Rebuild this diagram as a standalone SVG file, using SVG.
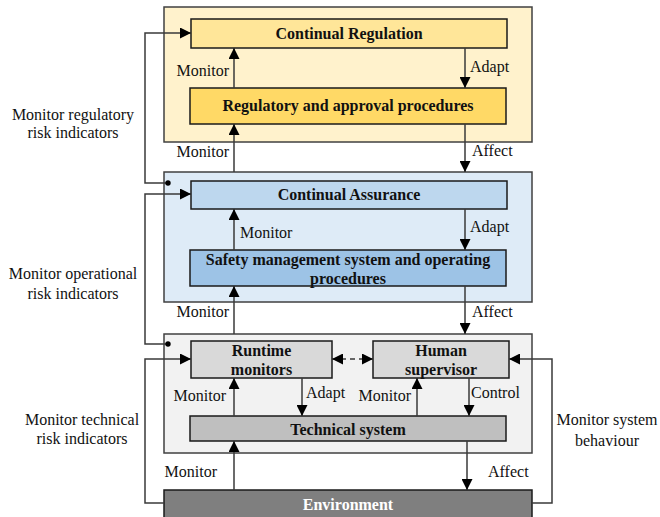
<svg xmlns="http://www.w3.org/2000/svg" width="660" height="517" viewBox="0 0 660 517">
<defs>
<marker id="ah" viewBox="0 0 10 10" refX="10" refY="5" markerWidth="11" markerHeight="11" markerUnits="userSpaceOnUse" orient="auto-start-reverse">
<path d="M0,0 L10,5 L0,10 Z" fill="#000"/>
</marker>
</defs>
<style>
.cont{stroke:#404040;stroke-width:1.5}
.box{stroke:#1a1a1a;stroke-width:1.5}
text{font-family:'Liberation Serif','Times New Roman',Times,'DejaVu Serif',serif;font-size:16px;fill:#111}
.bt{font-weight:bold;text-anchor:middle}
.c{text-anchor:middle}
.e{text-anchor:end}
.ar{fill:none;stroke:#3a3a3a;stroke-width:1.5;marker-end:url(#ah)}
</style>
<rect width="660" height="517" fill="#fff"/>

<g id="regulation-layer">
<rect class="cont" x="164" y="7" width="368" height="135" fill="#FFF2CC"/>
</g>
<g id="continual-regulation">
<rect class="box" x="191" y="19" width="316" height="29" fill="#FFE699"/>
<text class="bt" x="349" y="39">Continual Regulation</text>
</g>
<g id="regulatory-procedures">
<rect class="box" x="190" y="88" width="316" height="36" fill="#FFD966"/>
<text class="bt" x="348" y="111">Regulatory and approval procedures</text>
</g>

<g id="assurance-layer">
<rect class="cont" x="164" y="172" width="368" height="130" fill="#DEEBF7"/>
</g>
<g id="continual-assurance">
<rect class="box" x="191" y="181" width="316" height="28" fill="#BDD7EE"/>
<text class="bt" x="349" y="200">Continual Assurance</text>
</g>
<g id="safety-management">
<rect class="box" x="190" y="250" width="316" height="36" fill="#9DC3E6"/>
<text class="bt" x="348" y="265">Safety management system and operating</text>
<text class="bt" x="348" y="284">procedures</text>
</g>

<g id="technical-layer">
<rect class="cont" x="164" y="334" width="368" height="119" fill="#F2F2F2"/>
</g>
<g id="runtime-monitors">
<rect class="box" x="191" y="341" width="141" height="37" fill="#D9D9D9"/>
<text class="bt" x="261.5" y="356">Runtime</text>
<text class="bt" x="261.5" y="375">monitors</text>
</g>
<g id="human-supervisor">
<rect class="box" x="373" y="341" width="136" height="37" fill="#D9D9D9"/>
<text class="bt" x="441" y="356">Human</text>
<text class="bt" x="441" y="375">supervisor</text>
</g>
<g id="technical-system">
<rect class="box" x="190" y="416" width="316" height="25" fill="#BFBFBF"/>
<text class="bt" x="348" y="435">Technical system</text>
</g>
<g id="environment">
<rect class="box" x="164" y="490" width="368" height="32" fill="#7F7F7F"/>
<text class="bt" x="348" y="510" style="fill:#fff">Environment</text>
</g>

<g id="connectors">
<line class="ar" x1="234" y1="88" x2="234" y2="48"/>
<line class="ar" x1="465" y1="48" x2="465" y2="88"/>
<line class="ar" x1="234" y1="172" x2="234" y2="124"/>
<line class="ar" x1="465" y1="124" x2="465" y2="172"/>
<line class="ar" x1="234" y1="250" x2="234" y2="209"/>
<line class="ar" x1="465" y1="209" x2="465" y2="250"/>
<line class="ar" x1="234" y1="334" x2="234" y2="286"/>
<line class="ar" x1="465" y1="286" x2="465" y2="334"/>
<line class="ar" x1="234" y1="416" x2="234" y2="378"/>
<line class="ar" x1="302" y1="378" x2="302" y2="416"/>
<line class="ar" x1="417" y1="416" x2="417" y2="378"/>
<line class="ar" x1="469" y1="378" x2="469" y2="416"/>
<line class="ar" x1="234" y1="490" x2="234" y2="441"/>
<line class="ar" x1="467" y1="441" x2="467" y2="490"/>
<line x1="332" y1="359" x2="373" y2="359" style="fill:none;stroke:#3a3a3a;stroke-width:1.5;stroke-dasharray:5 4;marker-start:url(#ah);marker-end:url(#ah)"/>
<path class="ar" d="M168,183 H145 V33 H191"/>
<circle cx="168" cy="183" r="2.7" fill="#000"/>
<path class="ar" d="M168,344 H145 V194 H191"/>
<circle cx="168" cy="344" r="2.7" fill="#000"/>
<path class="ar" d="M164,503 H145 V359 H191"/>
<path class="ar" d="M532,503 H552 V359 H509"/>
</g>

<g id="labels">
<text class="e" x="229" y="76">Monitor</text>
<text x="470" y="72">Adapt</text>
<text class="e" x="229" y="157">Monitor</text>
<text x="472" y="156">Affect</text>
<text x="240" y="238">Monitor</text>
<text x="470" y="232">Adapt</text>
<text class="e" x="229" y="317">Monitor</text>
<text x="472" y="317">Affect</text>
<text class="e" x="226" y="401">Monitor</text>
<text x="306" y="398">Adapt</text>
<text class="e" x="411" y="401">Monitor</text>
<text x="471" y="398">Control</text>
<text class="e" x="217" y="477">Monitor</text>
<text x="488" y="477">Affect</text>
<text class="c" x="73" y="120">Monitor regulatory</text>
<text class="c" x="73" y="138">risk indicators</text>
<text class="c" x="73" y="279">Monitor operational</text>
<text class="c" x="73" y="299">risk indicators</text>
<text class="c" x="82" y="425">Monitor technical</text>
<text class="c" x="82" y="444">risk indicators</text>
<text class="c" x="607" y="425">Monitor system</text>
<text class="c" x="607" y="446">behaviour</text>
</g>
</svg>
